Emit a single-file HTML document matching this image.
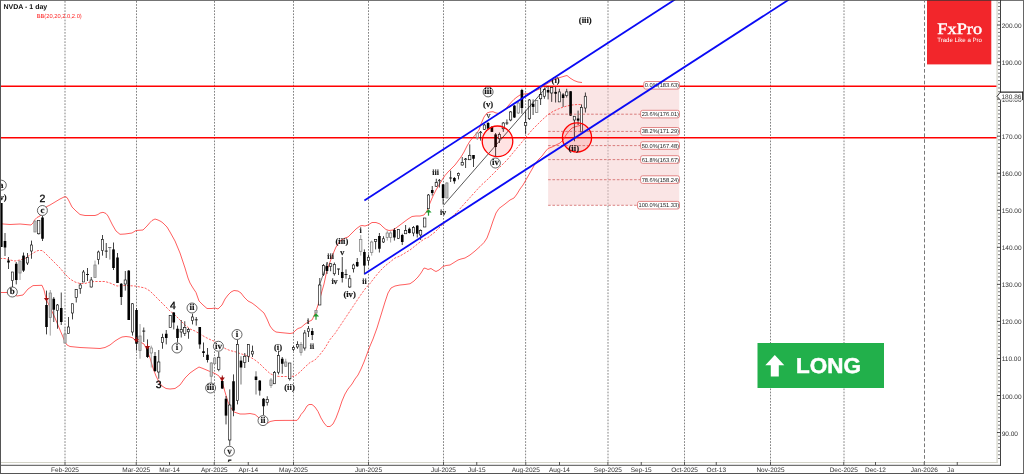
<!DOCTYPE html>
<html><head><meta charset="utf-8"><title>NVDA - 1 day</title>
<style>html,body{margin:0;padding:0;background:#fff;overflow:hidden}body{width:1024px;height:474px;position:relative;font-family:"Liberation Sans",sans-serif}</style></head>
<body>
<svg width="1024" height="474" viewBox="0 0 1024 474" style="position:absolute;left:0;top:0;will-change:transform;text-rendering:geometricPrecision">
<rect x="0" y="0" width="1024" height="474" fill="#fff"/>
<defs><clipPath id="cp"><rect x="0" y="0" width="997" height="462"/></clipPath></defs>
<g clip-path="url(#cp)">
<line x1="65.0" y1="1" x2="65.0" y2="462" stroke="#838383" stroke-width="1" stroke-dasharray="1.7 1.4"/>
<line x1="136.5" y1="1" x2="136.5" y2="462" stroke="#838383" stroke-width="1" stroke-dasharray="1.7 1.4"/>
<line x1="214.5" y1="1" x2="214.5" y2="462" stroke="#838383" stroke-width="1" stroke-dasharray="1.7 1.4"/>
<line x1="293.5" y1="1" x2="293.5" y2="462" stroke="#838383" stroke-width="1" stroke-dasharray="1.7 1.4"/>
<line x1="368.5" y1="1" x2="368.5" y2="462" stroke="#838383" stroke-width="1" stroke-dasharray="1.7 1.4"/>
<line x1="443.5" y1="1" x2="443.5" y2="462" stroke="#838383" stroke-width="1" stroke-dasharray="1.7 1.4"/>
<line x1="525.6" y1="1" x2="525.6" y2="462" stroke="#838383" stroke-width="1" stroke-dasharray="1.7 1.4"/>
<line x1="608.0" y1="1" x2="608.0" y2="462" stroke="#838383" stroke-width="1" stroke-dasharray="1.7 1.4"/>
<line x1="684.5" y1="1" x2="684.5" y2="462" stroke="#838383" stroke-width="1" stroke-dasharray="1.7 1.4"/>
<line x1="770.5" y1="1" x2="770.5" y2="462" stroke="#838383" stroke-width="1" stroke-dasharray="1.7 1.4"/>
<line x1="844.0" y1="1" x2="844.0" y2="462" stroke="#838383" stroke-width="1" stroke-dasharray="1.7 1.4"/>
<line x1="924.5" y1="1" x2="924.5" y2="462" stroke="#787878" stroke-width="1" stroke-dasharray="3.7 2.15" stroke-dashoffset="2.2"/>
<rect x="548.1" y="86.3" width="131.1" height="118.8" fill="#f6cccc" fill-opacity="0.5"/>
<line x1="0" y1="86.3" x2="997" y2="86.3" stroke="#ff0000" stroke-width="1.55"/>
<line x1="0" y1="137.8" x2="997" y2="137.8" stroke="#ff0000" stroke-width="1.55"/>
<polyline points="0.00,223.75 10.00,224.50 20.00,224.00 31.00,225.00 33.00,223.00 35.00,219.50 37.00,217.50 40.00,216.00 43.00,211.00 46.00,207.00 50.00,205.00 55.00,202.00 60.00,199.00 63.00,197.50 65.00,196.50 67.00,197.50 69.00,201.00 72.00,207.00 76.00,211.00 80.00,214.50 85.00,215.50 95.00,215.50 98.00,214.50 100.00,213.00 103.00,212.30 106.00,213.50 108.00,216.00 110.00,220.00 112.50,225.00 116.00,231.00 120.00,234.30 125.00,234.00 132.00,233.00 136.00,230.50 143.00,230.00 147.00,226.00 150.00,222.50 152.00,220.50 155.00,219.00 158.00,220.00 161.00,221.50 163.00,223.00 167.00,227.00 170.00,232.00 175.00,241.00 180.00,253.00 185.00,268.00 188.00,278.00 190.00,283.00 193.00,288.00 196.00,292.50 199.00,301.00 203.00,305.00 207.00,308.50 212.00,308.50 215.00,308.00 218.00,309.00 222.00,305.00 225.00,299.00 228.00,295.00 231.00,292.00 234.00,290.50 238.00,291.00 241.00,293.00 244.00,297.00 248.00,301.00 252.00,303.00 256.00,306.00 260.00,309.50 264.00,313.00 267.00,319.00 270.00,326.00 273.00,330.00 276.00,332.00 280.00,332.50 285.00,333.00 290.00,333.50 293.00,333.00 296.00,330.00 298.00,328.50 301.00,327.50 305.00,324.00 309.00,321.50 312.00,320.00 314.00,316.00 316.00,311.00 318.00,305.00 320.00,298.00 322.00,291.00 324.00,284.00 327.00,270.00 330.00,262.00 333.00,254.00 336.00,247.00 340.00,241.00 345.00,238.00 348.00,237.00 352.00,233.00 356.00,229.00 360.00,226.00 362.00,225.50 365.00,226.00 368.00,225.00 372.00,222.50 376.00,222.50 380.00,224.00 383.00,227.00 386.00,229.50 389.00,230.50 393.00,230.00 396.00,228.00 400.00,225.00 404.00,222.00 408.00,219.00 412.00,216.50 416.00,216.00 420.00,216.00 424.00,215.00 427.00,211.00 430.00,203.00 433.00,196.00 436.00,190.00 439.00,185.00 442.00,180.00 445.00,175.50 448.00,172.00 452.00,168.00 455.00,165.00 458.00,161.00 461.00,157.00 464.00,152.00 467.00,146.00 470.00,141.00 473.00,137.50 476.00,134.00 479.00,130.00 481.00,124.00 484.00,117.00 487.00,113.00 490.00,112.00 493.00,111.70 496.00,113.00 499.00,113.50 502.00,112.00 505.00,109.50 508.00,106.00 512.00,101.50 514.00,99.40 517.00,97.00 520.00,95.00 524.00,94.00 528.00,93.60 532.00,92.00 537.00,90.00 540.00,88.75 545.00,85.00 550.00,82.00 555.00,79.00 560.00,77.50 565.00,76.00 567.00,75.50 570.00,78.00 574.00,80.50 578.00,82.00 582.00,82.50" fill="none" stroke="#ff2a2a" stroke-width="0.75" stroke-linejoin="round"/>
<polyline points="0.00,292.50 7.00,292.50 12.00,294.00 17.00,296.00 23.00,295.00 28.00,289.00 33.00,285.60 42.00,285.30 44.00,290.00 46.50,300.00 50.00,307.00 55.00,318.00 60.00,330.00 63.00,337.00 65.00,342.00 67.00,345.00 70.00,346.50 80.00,347.50 90.00,348.00 100.00,348.50 105.00,347.50 110.00,345.00 115.00,341.00 119.00,338.50 122.00,337.00 126.00,336.50 130.00,337.00 133.00,338.00 136.00,341.00 140.00,342.00 144.00,344.00 147.00,350.00 150.00,358.00 153.00,368.00 156.00,376.00 159.00,382.00 162.00,386.00 166.00,388.50 170.00,389.00 175.00,388.50 180.00,385.00 185.00,378.00 190.00,373.00 195.00,369.50 199.00,367.00 203.00,368.50 210.00,371.50 215.00,373.50 219.00,376.00 222.00,381.00 225.00,392.00 228.00,402.00 231.00,408.00 234.00,412.00 240.00,414.00 245.00,414.00 250.00,413.50 255.00,414.50 258.00,417.00 261.00,420.00 264.00,422.00 268.00,423.00 270.00,421.50 275.00,420.50 285.00,420.40 297.00,420.40 299.00,418.00 301.00,414.50 304.00,411.00 307.00,406.00 309.00,404.50 312.00,404.50 315.00,407.00 318.00,411.50 321.00,418.00 324.00,423.00 327.00,426.50 330.00,426.50 333.00,424.00 336.00,418.00 339.00,410.00 342.00,401.00 345.00,394.00 348.00,389.00 352.00,384.00 355.00,379.00 358.00,375.00 361.00,369.00 364.00,362.00 367.00,354.00 370.00,346.00 373.00,339.00 377.00,328.00 381.00,315.00 385.00,302.00 388.00,293.00 391.00,288.00 395.00,286.00 400.00,285.00 405.00,284.50 410.00,283.75 414.00,281.00 418.00,277.00 421.00,273.00 424.00,268.00 426.00,268.50 428.00,269.50 431.00,268.50 434.00,270.50 436.00,271.50 439.00,270.00 443.00,266.50 446.00,265.50 450.00,265.00 454.00,262.50 458.00,260.00 461.00,259.00 465.00,258.00 470.00,255.00 475.00,251.00 480.00,246.50 484.00,242.50 487.00,238.00 490.00,230.00 493.00,221.00 496.00,213.00 499.00,208.50 505.00,204.00 510.00,200.00 514.00,198.00 517.00,194.00 520.00,189.00 523.00,185.00 527.00,178.00 531.00,171.00 535.00,164.00 538.00,160.00 542.00,156.00 545.00,152.00 548.00,148.50 552.00,147.00 556.00,145.00 560.00,143.00 563.00,140.00 566.00,135.00 569.00,131.00 572.00,128.00 576.00,126.50 580.00,125.50 582.00,123.00" fill="none" stroke="#ff2a2a" stroke-width="0.75" stroke-linejoin="round"/>
<polyline points="0.00,258.50 5.00,258.50 10.00,260.00 15.00,261.00 20.00,260.00 25.00,258.50 30.00,255.00 35.00,252.00 38.00,250.50 42.00,250.50 45.00,253.00 50.00,258.00 55.00,263.00 60.00,268.00 65.00,274.00 70.00,279.00 75.00,282.00 80.00,283.50 85.00,283.50 90.00,282.00 95.00,281.50 105.00,281.50 110.00,283.00 117.00,286.00 125.00,285.50 135.00,286.00 145.00,288.00 150.00,291.00 155.00,296.00 160.00,301.00 165.00,306.00 170.00,311.00 175.00,315.00 180.00,320.00 185.00,325.00 190.00,329.00 195.00,331.00 200.00,334.00 205.00,337.00 210.00,339.50 215.00,341.50 220.00,345.00 225.00,348.50 230.00,350.50 236.00,352.00 240.00,353.50 245.00,355.00 250.00,357.00 255.00,360.00 260.00,364.00 265.00,369.00 270.00,373.50 275.00,376.00 280.00,376.50 290.00,376.50 295.00,376.00 300.00,372.00 305.00,367.00 310.00,362.50 315.00,360.00 320.00,354.50 325.00,348.00 330.00,339.50 335.00,333.50 340.00,326.00 345.00,318.50 350.00,311.00 355.00,303.50 360.00,296.00 365.00,289.00 370.00,283.50 375.00,277.00 380.00,271.00 385.00,266.00 390.00,262.00 395.00,258.00 400.00,256.00 405.00,253.00 410.00,250.00 415.00,246.00 420.00,242.00 425.00,238.50 428.00,237.50 435.00,232.00 440.00,227.00 445.00,222.50 450.00,218.80 455.00,214.00 460.00,208.75 465.00,203.00 470.00,197.50 475.00,192.00 480.00,186.50 482.00,184.50 487.00,180.00 492.00,175.00 497.00,170.00 502.00,165.00 507.00,160.00 512.00,154.00 517.00,148.00 522.00,142.00 527.00,136.00 532.00,130.00 537.00,125.00 542.00,120.00 547.00,115.50 552.00,112.00 557.00,109.50 562.00,107.50 567.00,106.00 572.00,105.00 577.00,104.50 581.00,104.50" fill="none" stroke="#ff2a2a" stroke-width="0.75" stroke-dasharray="2.2 1.4" stroke-linejoin="round"/>
<rect x="0" y="203" width="2.6" height="44" fill="#000"/>
<line x1="5" y1="233" x2="5" y2="256" stroke="#111" stroke-width="0.8"/>
<rect x="3.7" y="241" width="2.6" height="6.5" fill="#000"/>
<line x1="8.5" y1="257" x2="8.5" y2="269" stroke="#111" stroke-width="0.8"/>
<rect x="7.2" y="260.5" width="2.6" height="2.0" fill="#000"/>
<line x1="12.5" y1="272" x2="12.5" y2="287" stroke="#111" stroke-width="0.8"/>
<rect x="11.35" y="272" width="2.3" height="8.600000000000023" fill="#fff" stroke="#111" stroke-width="0.65"/>
<line x1="16.25" y1="262" x2="16.25" y2="284.4" stroke="#111" stroke-width="0.8"/>
<rect x="14.95" y="263.75" width="2.6" height="16.25" fill="#000"/>
<line x1="20" y1="261" x2="20" y2="280" stroke="#8a8a8a" stroke-width="0.8"/>
<rect x="18.9" y="261" width="2.2" height="12" fill="#c8c8c8" stroke="#808080" stroke-width="0.75"/>
<line x1="23.5" y1="252.5" x2="23.5" y2="272" stroke="#111" stroke-width="0.8"/>
<rect x="22.2" y="255.6" width="2.6" height="15.000000000000028" fill="#000"/>
<line x1="27.5" y1="253" x2="27.5" y2="265" stroke="#111" stroke-width="0.8"/>
<rect x="26.35" y="257.5" width="2.3" height="5.5" fill="#fff" stroke="#111" stroke-width="0.65"/>
<line x1="31.5" y1="240.6" x2="31.5" y2="258.75" stroke="#111" stroke-width="0.8"/>
<rect x="30.35" y="245" width="2.3" height="6" fill="#fff" stroke="#111" stroke-width="0.65"/>
<line x1="35" y1="221" x2="35" y2="232" stroke="#8a8a8a" stroke-width="0.8"/>
<rect x="33.9" y="221" width="2.2" height="11" fill="#c8c8c8" stroke="#808080" stroke-width="0.75"/>
<line x1="38.75" y1="220.6" x2="38.75" y2="234.5" stroke="#111" stroke-width="0.8"/>
<rect x="37.6" y="220.6" width="2.3" height="13.150000000000006" fill="#fff" stroke="#111" stroke-width="0.65"/>
<line x1="42.5" y1="216" x2="42.5" y2="241" stroke="#111" stroke-width="0.8"/>
<rect x="41.2" y="217.5" width="2.6" height="21.25" fill="#000"/>
<line x1="46.5" y1="290.6" x2="46.5" y2="334.4" stroke="#111" stroke-width="0.8"/>
<rect x="45.2" y="305" width="2.6" height="22" fill="#000"/>
<line x1="50.25" y1="290" x2="50.25" y2="335.6" stroke="#8a8a8a" stroke-width="0.8"/>
<rect x="49.15" y="293" width="2.2" height="24.5" fill="#c8c8c8" stroke="#808080" stroke-width="0.75"/>
<line x1="53.75" y1="297" x2="53.75" y2="322" stroke="#111" stroke-width="0.8"/>
<rect x="52.45" y="298.75" width="2.6" height="11.0" fill="#000"/>
<line x1="57.5" y1="304" x2="57.5" y2="328.75" stroke="#111" stroke-width="0.8"/>
<rect x="56.35" y="305" width="2.3" height="5.600000000000023" fill="#fff" stroke="#111" stroke-width="0.65"/>
<line x1="61.25" y1="292.5" x2="61.25" y2="325" stroke="#111" stroke-width="0.8"/>
<rect x="59.95" y="308" width="2.6" height="14" fill="#000"/>
<line x1="65" y1="327" x2="65" y2="343" stroke="#8a8a8a" stroke-width="0.8"/>
<rect x="63.9" y="334" width="2.2" height="9" fill="#c8c8c8" stroke="#808080" stroke-width="0.75"/>
<line x1="68.5" y1="317" x2="68.5" y2="333.5" stroke="#111" stroke-width="0.8"/>
<rect x="67.35" y="327" width="2.3" height="6.5" fill="#fff" stroke="#111" stroke-width="0.65"/>
<line x1="72.5" y1="303.75" x2="72.5" y2="319.4" stroke="#111" stroke-width="0.8"/>
<rect x="71.35" y="303.75" width="2.3" height="9.25" fill="#fff" stroke="#111" stroke-width="0.65"/>
<line x1="76.25" y1="289" x2="76.25" y2="302.5" stroke="#111" stroke-width="0.8"/>
<rect x="75.1" y="289.4" width="2.3" height="8.100000000000023" fill="#fff" stroke="#111" stroke-width="0.65"/>
<line x1="80.3" y1="283" x2="80.3" y2="293.75" stroke="#111" stroke-width="0.8"/>
<rect x="79.14999999999999" y="285" width="2.3" height="3.5" fill="#fff" stroke="#111" stroke-width="0.65"/>
<line x1="83.5" y1="270" x2="83.5" y2="282" stroke="#111" stroke-width="0.8"/>
<rect x="82.35" y="272" width="2.3" height="10" fill="#fff" stroke="#111" stroke-width="0.65"/>
<line x1="87.5" y1="268" x2="87.5" y2="281" stroke="#111" stroke-width="0.8"/>
<line x1="86.0" y1="274.5" x2="89.0" y2="274.5" stroke="#111" stroke-width="0.9"/>
<line x1="91.25" y1="277" x2="91.25" y2="287.5" stroke="#111" stroke-width="0.8"/>
<rect x="90.1" y="280" width="2.3" height="7" fill="#fff" stroke="#111" stroke-width="0.65"/>
<line x1="95" y1="260.6" x2="95" y2="277.5" stroke="#8a8a8a" stroke-width="0.8"/>
<rect x="93.9" y="265" width="2.2" height="12.5" fill="#c8c8c8" stroke="#808080" stroke-width="0.75"/>
<line x1="98.5" y1="250.6" x2="98.5" y2="264.4" stroke="#111" stroke-width="0.8"/>
<rect x="97.35" y="252" width="2.3" height="7.399999999999977" fill="#fff" stroke="#111" stroke-width="0.65"/>
<line x1="102.5" y1="235" x2="102.5" y2="255.6" stroke="#111" stroke-width="0.8"/>
<rect x="101.35" y="239.4" width="2.3" height="11.199999999999989" fill="#fff" stroke="#111" stroke-width="0.65"/>
<line x1="106.25" y1="243" x2="106.25" y2="258" stroke="#111" stroke-width="0.8"/>
<line x1="104.75" y1="251.1" x2="107.75" y2="251.1" stroke="#111" stroke-width="0.9"/>
<line x1="109.75" y1="247.5" x2="109.75" y2="259.4" stroke="#8a8a8a" stroke-width="0.8"/>
<rect x="109.15" y="247.5" width="1.2" height="11.899999999999977" fill="#b0b0b0"/>
<line x1="108.15" y1="247.5" x2="111.35" y2="247.5" stroke="#666" stroke-width="0.9"/>
<line x1="113.5" y1="242.5" x2="113.5" y2="270" stroke="#111" stroke-width="0.8"/>
<rect x="112.2" y="249.4" width="2.6" height="18.599999999999994" fill="#000"/>
<line x1="117.5" y1="253" x2="117.5" y2="283" stroke="#111" stroke-width="0.8"/>
<rect x="116.2" y="257.5" width="2.6" height="25.5" fill="#000"/>
<line x1="121.25" y1="283" x2="121.25" y2="305" stroke="#111" stroke-width="0.8"/>
<rect x="119.95" y="283.75" width="2.6" height="13.25" fill="#000"/>
<line x1="125.3" y1="271" x2="125.3" y2="290.6" stroke="#111" stroke-width="0.8"/>
<rect x="124.14999999999999" y="280" width="2.3" height="4" fill="#fff" stroke="#111" stroke-width="0.65"/>
<line x1="128.75" y1="270" x2="128.75" y2="320" stroke="#111" stroke-width="0.8"/>
<rect x="127.45" y="270.6" width="2.6" height="49.39999999999998" fill="#000"/>
<line x1="132.5" y1="303" x2="132.5" y2="335.6" stroke="#111" stroke-width="0.8"/>
<rect x="131.35" y="303.75" width="2.3" height="28.25" fill="#fff" stroke="#111" stroke-width="0.65"/>
<line x1="136.5" y1="308" x2="136.5" y2="350.6" stroke="#111" stroke-width="0.8"/>
<rect x="135.2" y="310" width="2.6" height="33.75" fill="#000"/>
<line x1="140" y1="324" x2="140" y2="358.75" stroke="#8a8a8a" stroke-width="0.8"/>
<rect x="138.9" y="336" width="2.2" height="14.600000000000023" fill="#c8c8c8" stroke="#808080" stroke-width="0.75"/>
<line x1="143.75" y1="327.5" x2="143.75" y2="342" stroke="#111" stroke-width="0.8"/>
<line x1="142.25" y1="331.1" x2="145.25" y2="331.1" stroke="#111" stroke-width="0.9"/>
<line x1="147.5" y1="339.4" x2="147.5" y2="358" stroke="#111" stroke-width="0.8"/>
<rect x="146.2" y="346" width="2.6" height="11" fill="#000"/>
<line x1="151.25" y1="345.6" x2="151.25" y2="367.5" stroke="#8a8a8a" stroke-width="0.8"/>
<rect x="150.1" y="348" width="2.3" height="5" fill="#f4f4f4" stroke="#777" stroke-width="0.7"/>
<line x1="155" y1="352" x2="155" y2="372" stroke="#111" stroke-width="0.8"/>
<rect x="153.7" y="356" width="2.6" height="15" fill="#000"/>
<line x1="158.75" y1="350" x2="158.75" y2="378.75" stroke="#111" stroke-width="0.8"/>
<rect x="157.6" y="362" width="2.3" height="10" fill="#fff" stroke="#111" stroke-width="0.65"/>
<line x1="162.5" y1="333.75" x2="162.5" y2="348.75" stroke="#111" stroke-width="0.8"/>
<rect x="161.35" y="337.5" width="2.3" height="5.0" fill="#fff" stroke="#111" stroke-width="0.65"/>
<line x1="166.25" y1="330" x2="166.25" y2="344.4" stroke="#111" stroke-width="0.8"/>
<rect x="164.95" y="333.75" width="2.6" height="4.25" fill="#000"/>
<line x1="170.3" y1="315.6" x2="170.3" y2="327.5" stroke="#111" stroke-width="0.8"/>
<rect x="169.15" y="315.6" width="2.3" height="11.899999999999977" fill="#fff" stroke="#111" stroke-width="0.65"/>
<line x1="173.75" y1="312" x2="173.75" y2="329.4" stroke="#111" stroke-width="0.8"/>
<rect x="172.45" y="312.5" width="2.6" height="10.0" fill="#000"/>
<line x1="177.5" y1="325.6" x2="177.5" y2="342.5" stroke="#111" stroke-width="0.8"/>
<rect x="176.2" y="328.75" width="2.6" height="9.25" fill="#000"/>
<line x1="181.25" y1="320" x2="181.25" y2="337.5" stroke="#111" stroke-width="0.8"/>
<rect x="180.1" y="329.4" width="2.3" height="2.6000000000000227" fill="#fff" stroke="#111" stroke-width="0.65"/>
<line x1="184.75" y1="321.25" x2="184.75" y2="336" stroke="#111" stroke-width="0.8"/>
<rect x="183.6" y="327.5" width="2.3" height="6.0" fill="#fff" stroke="#111" stroke-width="0.65"/>
<line x1="188.5" y1="328" x2="188.5" y2="338.75" stroke="#111" stroke-width="0.8"/>
<rect x="187.35" y="329.6" width="2.3" height="2.1999999999999886" fill="#fff" stroke="#111" stroke-width="0.65"/>
<line x1="192.5" y1="313.75" x2="192.5" y2="324.4" stroke="#111" stroke-width="0.8"/>
<rect x="191.35" y="317" width="2.3" height="3.6000000000000227" fill="#fff" stroke="#111" stroke-width="0.65"/>
<line x1="196.25" y1="317" x2="196.25" y2="325.6" stroke="#111" stroke-width="0.8"/>
<line x1="194.75" y1="319.8" x2="197.75" y2="319.8" stroke="#111" stroke-width="0.9"/>
<line x1="199.75" y1="327" x2="199.75" y2="348.75" stroke="#111" stroke-width="0.8"/>
<rect x="198.45" y="327" width="2.6" height="17.399999999999977" fill="#000"/>
<line x1="203.5" y1="342.5" x2="203.5" y2="357" stroke="#111" stroke-width="0.8"/>
<rect x="202.2" y="351.25" width="2.6" height="1.75" fill="#000"/>
<line x1="207.5" y1="348" x2="207.5" y2="362.5" stroke="#111" stroke-width="0.8"/>
<rect x="206.2" y="354.75" width="2.6" height="5.25" fill="#000"/>
<line x1="211.25" y1="362" x2="211.25" y2="383.75" stroke="#8a8a8a" stroke-width="0.8"/>
<rect x="210.15" y="363" width="2.2" height="13.25" fill="#c8c8c8" stroke="#808080" stroke-width="0.75"/>
<line x1="214.75" y1="357" x2="214.75" y2="364" stroke="#8a8a8a" stroke-width="0.8"/>
<rect x="213.65" y="358" width="2.2" height="5.75" fill="#c8c8c8" stroke="#808080" stroke-width="0.75"/>
<line x1="218.75" y1="352" x2="218.75" y2="371.25" stroke="#111" stroke-width="0.8"/>
<rect x="217.6" y="357.25" width="2.3" height="12.149999999999977" fill="#fff" stroke="#111" stroke-width="0.65"/>
<line x1="222.25" y1="377" x2="222.25" y2="389" stroke="#111" stroke-width="0.8"/>
<rect x="220.95" y="381" width="2.6" height="7.5" fill="#000"/>
<line x1="226" y1="396" x2="226" y2="424.4" stroke="#111" stroke-width="0.8"/>
<rect x="224.7" y="398.75" width="2.6" height="16.850000000000023" fill="#000"/>
<line x1="229.75" y1="389.4" x2="229.75" y2="445.6" stroke="#111" stroke-width="0.8"/>
<rect x="228.6" y="405" width="2.3" height="35" fill="#fff" stroke="#111" stroke-width="0.65"/>
<line x1="233.5" y1="374.4" x2="233.5" y2="416.25" stroke="#111" stroke-width="0.8"/>
<rect x="232.2" y="381.25" width="2.6" height="29.350000000000023" fill="#000"/>
<line x1="237.5" y1="340" x2="237.5" y2="404.4" stroke="#111" stroke-width="0.8"/>
<rect x="236.35" y="344.4" width="2.3" height="56.200000000000045" fill="#fff" stroke="#111" stroke-width="0.65"/>
<line x1="241" y1="356.25" x2="241" y2="384.4" stroke="#9a9a9a" stroke-width="1.4"/>
<rect x="239.7" y="360.6" width="2.6" height="6.899999999999977" fill="#000"/>
<line x1="244.75" y1="353" x2="244.75" y2="368" stroke="#111" stroke-width="0.8"/>
<rect x="243.6" y="356.25" width="2.3" height="6.25" fill="#fff" stroke="#111" stroke-width="0.65"/>
<line x1="248.5" y1="344" x2="248.5" y2="362" stroke="#111" stroke-width="0.8"/>
<rect x="247.35" y="344.4" width="2.3" height="11.850000000000023" fill="#fff" stroke="#111" stroke-width="0.65"/>
<line x1="252.5" y1="345.6" x2="252.5" y2="357" stroke="#111" stroke-width="0.8"/>
<rect x="251.35" y="351.25" width="2.3" height="2.75" fill="#fff" stroke="#111" stroke-width="0.65"/>
<line x1="256" y1="371.25" x2="256" y2="394.4" stroke="#9a9a9a" stroke-width="1.4"/>
<rect x="254.7" y="376.5" width="2.6" height="3.5" fill="#000"/>
<line x1="259.75" y1="380" x2="259.75" y2="395.6" stroke="#111" stroke-width="0.8"/>
<rect x="258.45" y="380.6" width="2.6" height="10.0" fill="#000"/>
<line x1="263.5" y1="398" x2="263.5" y2="415" stroke="#111" stroke-width="0.8"/>
<rect x="262.2" y="398.75" width="2.6" height="7.5" fill="#000"/>
<line x1="267.25" y1="396.25" x2="267.25" y2="405.6" stroke="#111" stroke-width="0.8"/>
<rect x="266.1" y="399.4" width="2.3" height="3.1000000000000227" fill="#fff" stroke="#111" stroke-width="0.65"/>
<line x1="271" y1="378" x2="271" y2="388" stroke="#8a8a8a" stroke-width="0.8"/>
<rect x="269.9" y="380" width="2.2" height="5.600000000000023" fill="#c8c8c8" stroke="#808080" stroke-width="0.75"/>
<line x1="274.5" y1="371" x2="274.5" y2="384" stroke="#111" stroke-width="0.8"/>
<rect x="273.35" y="372.5" width="2.3" height="11.25" fill="#fff" stroke="#111" stroke-width="0.65"/>
<line x1="278.5" y1="350.6" x2="278.5" y2="374.4" stroke="#111" stroke-width="0.8"/>
<rect x="277.35" y="355.6" width="2.3" height="16.649999999999977" fill="#fff" stroke="#111" stroke-width="0.65"/>
<line x1="282.25" y1="357" x2="282.25" y2="373.75" stroke="#111" stroke-width="0.8"/>
<rect x="280.95" y="358.75" width="2.6" height="5.0" fill="#000"/>
<line x1="285.75" y1="358.75" x2="285.75" y2="367" stroke="#8a8a8a" stroke-width="0.8"/>
<rect x="284.65" y="362" width="2.2" height="4.25" fill="#c8c8c8" stroke="#808080" stroke-width="0.75"/>
<line x1="289.75" y1="363" x2="289.75" y2="380.6" stroke="#111" stroke-width="0.8"/>
<rect x="288.6" y="363" width="2.3" height="15.75" fill="#fff" stroke="#111" stroke-width="0.65"/>
<line x1="293.5" y1="346" x2="293.5" y2="351" stroke="#111" stroke-width="0.8"/>
<rect x="292.35" y="347.5" width="2.3" height="2.0" fill="#fff" stroke="#111" stroke-width="0.65"/>
<line x1="297.5" y1="341.25" x2="297.5" y2="348.75" stroke="#111" stroke-width="0.8"/>
<rect x="296.35" y="344.4" width="2.3" height="2.6000000000000227" fill="#fff" stroke="#111" stroke-width="0.65"/>
<line x1="301" y1="342" x2="301" y2="355.6" stroke="#8a8a8a" stroke-width="0.8"/>
<rect x="299.9" y="344.4" width="2.2" height="8.100000000000023" fill="#c8c8c8" stroke="#808080" stroke-width="0.75"/>
<line x1="304.75" y1="330" x2="304.75" y2="350.6" stroke="#111" stroke-width="0.8"/>
<rect x="303.6" y="333" width="2.3" height="15" fill="#fff" stroke="#111" stroke-width="0.65"/>
<line x1="308.5" y1="326" x2="308.5" y2="337" stroke="#111" stroke-width="0.8"/>
<rect x="307.35" y="328.75" width="2.3" height="2.75" fill="#fff" stroke="#111" stroke-width="0.65"/>
<line x1="312.25" y1="328" x2="312.25" y2="340" stroke="#111" stroke-width="0.8"/>
<rect x="310.95" y="331" width="2.6" height="4" fill="#000"/>
<line x1="316" y1="310" x2="316" y2="313.5" stroke="#8a8a8a" stroke-width="0.8"/>
<rect x="314.9" y="310.6" width="2.2" height="2.3999999999999773" fill="#c8c8c8" stroke="#808080" stroke-width="0.75"/>
<line x1="319.75" y1="278" x2="319.75" y2="305" stroke="#111" stroke-width="0.8"/>
<rect x="318.6" y="285" width="2.3" height="20" fill="#fff" stroke="#111" stroke-width="0.65"/>
<line x1="323.5" y1="264" x2="323.5" y2="276" stroke="#111" stroke-width="0.8"/>
<rect x="322.35" y="265.6" width="2.3" height="8.799999999999955" fill="#fff" stroke="#111" stroke-width="0.65"/>
<line x1="327.0" y1="262" x2="327.0" y2="274" stroke="#111" stroke-width="0.8"/>
<rect x="325.7" y="266" width="2.6" height="5" fill="#000"/>
<line x1="330.6" y1="263" x2="330.6" y2="271.25" stroke="#111" stroke-width="0.8"/>
<rect x="329.45000000000005" y="263.75" width="2.3" height="2.5" fill="#fff" stroke="#111" stroke-width="0.65"/>
<line x1="334.4" y1="262.5" x2="334.4" y2="275.6" stroke="#111" stroke-width="0.8"/>
<rect x="333.25" y="264.4" width="2.3" height="9.350000000000023" fill="#fff" stroke="#111" stroke-width="0.65"/>
<line x1="338.5" y1="268.75" x2="338.5" y2="275" stroke="#111" stroke-width="0.8"/>
<line x1="337.0" y1="269.0" x2="340.0" y2="269.0" stroke="#111" stroke-width="0.9"/>
<line x1="342.25" y1="257" x2="342.25" y2="282.5" stroke="#111" stroke-width="0.8"/>
<rect x="340.95" y="272" width="2.6" height="6" fill="#000"/>
<line x1="346" y1="269.4" x2="346" y2="278.75" stroke="#111" stroke-width="0.8"/>
<line x1="344.5" y1="274.5" x2="347.5" y2="274.5" stroke="#111" stroke-width="0.9"/>
<line x1="349.75" y1="275" x2="349.75" y2="288" stroke="#111" stroke-width="0.8"/>
<rect x="348.6" y="278.75" width="2.3" height="8.25" fill="#fff" stroke="#111" stroke-width="0.65"/>
<line x1="353.5" y1="263.75" x2="353.5" y2="272.5" stroke="#111" stroke-width="0.8"/>
<rect x="352.35" y="265" width="2.3" height="3.75" fill="#fff" stroke="#111" stroke-width="0.65"/>
<line x1="357.25" y1="258" x2="357.25" y2="267" stroke="#111" stroke-width="0.8"/>
<rect x="355.95" y="262" width="2.6" height="4.25" fill="#000"/>
<line x1="360.75" y1="235" x2="360.75" y2="255.6" stroke="#8a8a8a" stroke-width="0.8"/>
<rect x="359.6" y="239.4" width="2.3" height="11.849999999999994" fill="#f4f4f4" stroke="#777" stroke-width="0.7"/>
<line x1="364.4" y1="249.4" x2="364.4" y2="274.4" stroke="#111" stroke-width="0.8"/>
<rect x="363.09999999999997" y="252" width="2.6" height="13.600000000000023" fill="#000"/>
<line x1="368.5" y1="254.4" x2="368.5" y2="265" stroke="#111" stroke-width="0.8"/>
<rect x="367.35" y="257.25" width="2.3" height="3.3500000000000227" fill="#fff" stroke="#111" stroke-width="0.65"/>
<line x1="371.7" y1="240.6" x2="371.7" y2="255.6" stroke="#8a8a8a" stroke-width="0.8"/>
<rect x="370.55" y="242" width="2.3" height="10.5" fill="#f4f4f4" stroke="#777" stroke-width="0.7"/>
<line x1="375.6" y1="239.4" x2="375.6" y2="249.4" stroke="#111" stroke-width="0.8"/>
<rect x="374.45000000000005" y="239.4" width="2.3" height="2.0999999999999943" fill="#fff" stroke="#111" stroke-width="0.65"/>
<line x1="379.4" y1="233" x2="379.4" y2="252.5" stroke="#111" stroke-width="0.8"/>
<rect x="378.09999999999997" y="236" width="2.6" height="12.75" fill="#000"/>
<line x1="383.5" y1="236.25" x2="383.5" y2="243" stroke="#111" stroke-width="0.8"/>
<rect x="382.35" y="238.75" width="2.3" height="3.25" fill="#fff" stroke="#111" stroke-width="0.65"/>
<line x1="387.25" y1="230.6" x2="387.25" y2="240.6" stroke="#8a8a8a" stroke-width="0.8"/>
<rect x="386.1" y="233" width="2.3" height="4.5" fill="#f4f4f4" stroke="#777" stroke-width="0.7"/>
<line x1="390.6" y1="231.25" x2="390.6" y2="242.5" stroke="#8a8a8a" stroke-width="0.8"/>
<rect x="389.45000000000005" y="233" width="2.3" height="4.5" fill="#f4f4f4" stroke="#777" stroke-width="0.7"/>
<line x1="394.4" y1="228" x2="394.4" y2="240.6" stroke="#111" stroke-width="0.8"/>
<rect x="393.09999999999997" y="230" width="2.6" height="7.5" fill="#000"/>
<line x1="398.5" y1="229" x2="398.5" y2="239" stroke="#111" stroke-width="0.8"/>
<rect x="397.35" y="229.4" width="2.3" height="9.099999999999994" fill="#fff" stroke="#111" stroke-width="0.65"/>
<line x1="402.25" y1="233.75" x2="402.25" y2="245" stroke="#111" stroke-width="0.8"/>
<rect x="400.95" y="235" width="2.6" height="7" fill="#000"/>
<line x1="405.6" y1="225" x2="405.6" y2="234" stroke="#111" stroke-width="0.8"/>
<rect x="404.45000000000005" y="230.6" width="2.3" height="3.1500000000000057" fill="#fff" stroke="#111" stroke-width="0.65"/>
<line x1="409.4" y1="227.5" x2="409.4" y2="233.5" stroke="#111" stroke-width="0.8"/>
<rect x="408.09999999999997" y="228.75" width="2.6" height="4.25" fill="#000"/>
<line x1="413.5" y1="226" x2="413.5" y2="236.25" stroke="#111" stroke-width="0.8"/>
<rect x="412.35" y="227.5" width="2.3" height="5.5" fill="#fff" stroke="#111" stroke-width="0.65"/>
<line x1="417.25" y1="225" x2="417.25" y2="237.5" stroke="#111" stroke-width="0.8"/>
<rect x="415.95" y="225.6" width="2.6" height="8.150000000000006" fill="#000"/>
<line x1="420.6" y1="229.4" x2="420.6" y2="240" stroke="#111" stroke-width="0.8"/>
<rect x="419.45000000000005" y="230.6" width="2.3" height="4.400000000000006" fill="#fff" stroke="#111" stroke-width="0.65"/>
<line x1="424.75" y1="218" x2="424.75" y2="227" stroke="#111" stroke-width="0.8"/>
<rect x="423.6" y="218" width="2.3" height="9" fill="#fff" stroke="#111" stroke-width="0.65"/>
<line x1="428.5" y1="194" x2="428.5" y2="208.75" stroke="#111" stroke-width="0.8"/>
<rect x="427.35" y="195" width="2.3" height="13.75" fill="#fff" stroke="#111" stroke-width="0.65"/>
<line x1="432.25" y1="186" x2="432.25" y2="195.6" stroke="#111" stroke-width="0.8"/>
<rect x="430.95" y="190" width="2.6" height="3" fill="#000"/>
<line x1="436.3" y1="178.75" x2="436.3" y2="187" stroke="#111" stroke-width="0.8"/>
<rect x="435.15000000000003" y="182.5" width="2.3" height="3.75" fill="#fff" stroke="#111" stroke-width="0.65"/>
<line x1="439.4" y1="179.4" x2="439.4" y2="187.5" stroke="#111" stroke-width="0.8"/>
<path d="M437.9,181.4 L439.4,179.4 L440.9,181.4" fill="none" stroke="#111" stroke-width="0.8"/>
<line x1="443.1" y1="184" x2="443.1" y2="204.4" stroke="#111" stroke-width="0.8"/>
<rect x="441.8" y="184.4" width="2.6" height="13.599999999999994" fill="#000"/>
<line x1="446.9" y1="182" x2="446.9" y2="198" stroke="#8a8a8a" stroke-width="0.8"/>
<rect x="445.79999999999995" y="183" width="2.2" height="15" fill="#c8c8c8" stroke="#808080" stroke-width="0.75"/>
<line x1="450.6" y1="170.6" x2="450.6" y2="182" stroke="#111" stroke-width="0.8"/>
<line x1="449.1" y1="178.0" x2="452.1" y2="178.0" stroke="#111" stroke-width="0.9"/>
<line x1="454.4" y1="177" x2="454.4" y2="183.75" stroke="#111" stroke-width="0.8"/>
<rect x="453.09999999999997" y="178" width="2.6" height="3.25" fill="#000"/>
<line x1="458.5" y1="172.5" x2="458.5" y2="179.4" stroke="#111" stroke-width="0.8"/>
<rect x="457.35" y="173.4" width="2.3" height="2.1999999999999886" fill="#fff" stroke="#111" stroke-width="0.65"/>
<line x1="462.25" y1="157" x2="462.25" y2="165.6" stroke="#111" stroke-width="0.8"/>
<rect x="461.1" y="162.5" width="2.3" height="2.5" fill="#fff" stroke="#111" stroke-width="0.65"/>
<line x1="465.6" y1="158" x2="465.6" y2="168" stroke="#111" stroke-width="0.8"/>
<path d="M464.1,160 L465.6,158 L467.1,160" fill="none" stroke="#111" stroke-width="0.8"/>
<line x1="469.75" y1="144.4" x2="469.75" y2="160" stroke="#111" stroke-width="0.8"/>
<rect x="468.6" y="155.6" width="2.3" height="4.150000000000006" fill="#fff" stroke="#111" stroke-width="0.65"/>
<line x1="473.5" y1="155" x2="473.5" y2="167" stroke="#111" stroke-width="0.8"/>
<rect x="472.2" y="155" width="2.6" height="3.75" fill="#000"/>
<line x1="477.25" y1="132" x2="477.25" y2="140" stroke="#8a8a8a" stroke-width="0.8"/>
<rect x="476.1" y="133" width="2.3" height="4.5" fill="#f4f4f4" stroke="#777" stroke-width="0.7"/>
<line x1="480.6" y1="131.25" x2="480.6" y2="140.6" stroke="#111" stroke-width="0.8"/>
<path d="M479.1,133.25 L480.6,131.25 L482.1,133.25" fill="none" stroke="#111" stroke-width="0.8"/>
<line x1="484.4" y1="124" x2="484.4" y2="130" stroke="#111" stroke-width="0.8"/>
<rect x="483.25" y="125" width="2.3" height="4.400000000000006" fill="#fff" stroke="#111" stroke-width="0.65"/>
<line x1="488.1" y1="122" x2="488.1" y2="129" stroke="#111" stroke-width="0.8"/>
<rect x="486.8" y="123" width="2.6" height="5.75" fill="#000"/>
<line x1="491.9" y1="126" x2="491.9" y2="132" stroke="#111" stroke-width="0.8"/>
<rect x="490.59999999999997" y="126.9" width="2.6" height="5.0" fill="#000"/>
<line x1="495.6" y1="133" x2="495.6" y2="157" stroke="#111" stroke-width="0.8"/>
<rect x="494.3" y="134.4" width="2.6" height="12.599999999999994" fill="#000"/>
<line x1="499.4" y1="132.5" x2="499.4" y2="143" stroke="#111" stroke-width="0.8"/>
<rect x="498.25" y="134.4" width="2.3" height="4.349999999999994" fill="#fff" stroke="#111" stroke-width="0.65"/>
<line x1="503.3" y1="122" x2="503.3" y2="131.9" stroke="#111" stroke-width="0.8"/>
<rect x="502.15000000000003" y="123" width="2.3" height="5.75" fill="#fff" stroke="#111" stroke-width="0.65"/>
<line x1="506.9" y1="119.4" x2="506.9" y2="125" stroke="#111" stroke-width="0.8"/>
<line x1="505.4" y1="123.0" x2="508.4" y2="123.0" stroke="#111" stroke-width="0.9"/>
<line x1="510.6" y1="111" x2="510.6" y2="121.25" stroke="#111" stroke-width="0.8"/>
<rect x="509.45000000000005" y="111.9" width="2.3" height="8.099999999999994" fill="#fff" stroke="#111" stroke-width="0.65"/>
<line x1="514.4" y1="105" x2="514.4" y2="118" stroke="#111" stroke-width="0.8"/>
<rect x="513.1" y="105.6" width="2.6" height="11.900000000000006" fill="#000"/>
<line x1="518.3" y1="102" x2="518.3" y2="114" stroke="#8a8a8a" stroke-width="0.8"/>
<rect x="517.15" y="103" width="2.3" height="10" fill="#f4f4f4" stroke="#777" stroke-width="0.7"/>
<line x1="521.9" y1="88.75" x2="521.9" y2="113.75" stroke="#111" stroke-width="0.8"/>
<rect x="520.6" y="90" width="2.6" height="18" fill="#000"/>
<line x1="525.6" y1="111.25" x2="525.6" y2="134" stroke="#111" stroke-width="0.8"/>
<rect x="524.45" y="122.5" width="2.3" height="3.0999999999999943" fill="#fff" stroke="#111" stroke-width="0.65"/>
<line x1="529.4" y1="99" x2="529.4" y2="120" stroke="#111" stroke-width="0.8"/>
<rect x="528.25" y="100" width="2.3" height="18.75" fill="#fff" stroke="#111" stroke-width="0.65"/>
<line x1="533.1" y1="99.4" x2="533.1" y2="115" stroke="#111" stroke-width="0.8"/>
<rect x="531.8000000000001" y="103.75" width="2.6" height="3.1500000000000057" fill="#000"/>
<line x1="536.7" y1="100" x2="536.7" y2="113" stroke="#8a8a8a" stroke-width="0.8"/>
<rect x="535.5500000000001" y="100.6" width="2.3" height="11.900000000000006" fill="#f4f4f4" stroke="#777" stroke-width="0.7"/>
<line x1="540.6" y1="88" x2="540.6" y2="105" stroke="#111" stroke-width="0.8"/>
<rect x="539.45" y="94.4" width="2.3" height="4.349999999999994" fill="#fff" stroke="#111" stroke-width="0.65"/>
<line x1="544.4" y1="87.5" x2="544.4" y2="98.75" stroke="#111" stroke-width="0.8"/>
<rect x="543.25" y="89.4" width="2.3" height="6.849999999999994" fill="#fff" stroke="#111" stroke-width="0.65"/>
<line x1="548.1" y1="86.25" x2="548.1" y2="99.4" stroke="#111" stroke-width="0.8"/>
<rect x="546.8000000000001" y="90" width="2.6" height="2.5" fill="#000"/>
<line x1="551.7" y1="87" x2="551.7" y2="101.9" stroke="#111" stroke-width="0.8"/>
<rect x="550.5500000000001" y="87.5" width="2.3" height="5.5" fill="#fff" stroke="#111" stroke-width="0.65"/>
<line x1="555.6" y1="87" x2="555.6" y2="102.5" stroke="#111" stroke-width="0.8"/>
<rect x="554.3000000000001" y="91.9" width="2.6" height="1.8499999999999943" fill="#000"/>
<line x1="559.4" y1="88.75" x2="559.4" y2="102" stroke="#111" stroke-width="0.8"/>
<rect x="558.25" y="91.9" width="2.3" height="10.0" fill="#fff" stroke="#111" stroke-width="0.65"/>
<line x1="563.1" y1="93" x2="563.1" y2="106.9" stroke="#111" stroke-width="0.8"/>
<rect x="561.8000000000001" y="94.4" width="2.6" height="3.5999999999999943" fill="#000"/>
<line x1="566.7" y1="88.75" x2="566.7" y2="97.5" stroke="#111" stroke-width="0.8"/>
<rect x="565.5500000000001" y="91.9" width="2.3" height="3.6999999999999886" fill="#fff" stroke="#111" stroke-width="0.65"/>
<line x1="570.6" y1="91" x2="570.6" y2="116" stroke="#111" stroke-width="0.8"/>
<rect x="569.3000000000001" y="91.25" width="2.6" height="24.349999999999994" fill="#000"/>
<line x1="574.4" y1="116" x2="574.4" y2="141.25" stroke="#111" stroke-width="0.8"/>
<rect x="573.25" y="116.25" width="2.3" height="3.75" fill="#fff" stroke="#111" stroke-width="0.65"/>
<line x1="578.1" y1="110.6" x2="578.1" y2="125" stroke="#111" stroke-width="0.8"/>
<rect x="576.8000000000001" y="118.5" width="2.6" height="2.0999999999999943" fill="#000"/>
<line x1="581.5" y1="104.4" x2="581.5" y2="132" stroke="#111" stroke-width="0.8"/>
<rect x="580.35" y="107.5" width="2.3" height="24.400000000000006" fill="#fff" stroke="#111" stroke-width="0.65"/>
<line x1="585.4" y1="92.5" x2="585.4" y2="112.5" stroke="#111" stroke-width="0.8"/>
<rect x="584.25" y="96.25" width="2.3" height="11.75" fill="#fff" stroke="#111" stroke-width="0.65"/>
<path d="M46.5,296 L46.5,301" stroke="#a01010" stroke-width="1"/><path d="M43.9,298.0 L46.5,301.6 L49.1,298.0 Z" fill="#a01010"/>
<path d="M136.25,337 L136.25,342" stroke="#a01010" stroke-width="1"/><path d="M133.65,339.0 L136.25,342.6 L138.85,339.0 Z" fill="#a01010"/>
<path d="M147.5,344 L147.5,349" stroke="#a01010" stroke-width="1"/><path d="M144.9,346.0 L147.5,349.6 L150.1,346.0 Z" fill="#a01010"/>
<path d="M222.3,375.5 L222.3,380.5" stroke="#a01010" stroke-width="1"/><path d="M219.70000000000002,377.5 L222.3,381.1 L224.9,377.5 Z" fill="#a01010"/>
<path d="M316,314.2 L316,319.7" stroke="#1f9a2e" stroke-width="1.2"/><path d="M312.9,316.59999999999997 L316,313.2 L319.1,316.59999999999997 Z" fill="#1f9a2e"/>
<path d="M428.5,210.2 L428.5,215.7" stroke="#1f9a2e" stroke-width="1.2"/><path d="M425.4,212.6 L428.5,209.2 L431.6,212.6 Z" fill="#1f9a2e"/>
<line x1="319.5" y1="285" x2="327.4" y2="262.5" stroke="#111" stroke-width="0.6"/>
<line x1="443.8" y1="205" x2="547" y2="86.5" stroke="#111" stroke-width="0.7"/>
<circle cx="497.5" cy="141.3" r="15.3" fill="#ff0000" fill-opacity="0.11" stroke="#ff0000" stroke-width="1.3"/>
<circle cx="577" cy="137.5" r="14.6" fill="#ff0000" fill-opacity="0.11" stroke="#ff0000" stroke-width="1.3"/>
<rect x="643.75" y="81.5" width="35.75" height="7.6" rx="2" ry="2" fill="#fff" stroke="#dc6c6c" stroke-width="0.8"/>
<text x="661.925" y="87.45" font-family="Liberation Sans, sans-serif" font-size="5.7" fill="#222" text-anchor="middle">0.0%(183.63)</text>
<line x1="548.1" y1="114.2" x2="640.6" y2="114.2" stroke="#cc5050" stroke-width="0.7" stroke-dasharray="2.6 1.7"/>
<rect x="640.6" y="110.3" width="38.89999999999998" height="7.6" rx="2" ry="2" fill="#fff" stroke="#dc6c6c" stroke-width="0.8"/>
<text x="660.3499999999999" y="116.25" font-family="Liberation Sans, sans-serif" font-size="5.7" fill="#222" text-anchor="middle">23.6%(176.01)</text>
<line x1="548.1" y1="131.4" x2="640.6" y2="131.4" stroke="#cc5050" stroke-width="0.7" stroke-dasharray="2.6 1.7"/>
<rect x="640.6" y="127.5" width="38.89999999999998" height="7.6" rx="2" ry="2" fill="#fff" stroke="#dc6c6c" stroke-width="0.8"/>
<text x="660.3499999999999" y="133.45000000000002" font-family="Liberation Sans, sans-serif" font-size="5.7" fill="#222" text-anchor="middle">38.2%(171.29)</text>
<line x1="548.1" y1="145.6" x2="640.6" y2="145.6" stroke="#cc5050" stroke-width="0.7" stroke-dasharray="2.6 1.7"/>
<rect x="640.6" y="141.7" width="38.89999999999998" height="7.6" rx="2" ry="2" fill="#fff" stroke="#dc6c6c" stroke-width="0.8"/>
<text x="660.3499999999999" y="147.65" font-family="Liberation Sans, sans-serif" font-size="5.7" fill="#222" text-anchor="middle">50.0%(167.48)</text>
<line x1="548.1" y1="159.6" x2="640.6" y2="159.6" stroke="#cc5050" stroke-width="0.7" stroke-dasharray="2.6 1.7"/>
<rect x="640.6" y="155.7" width="38.89999999999998" height="7.6" rx="2" ry="2" fill="#fff" stroke="#dc6c6c" stroke-width="0.8"/>
<text x="660.3499999999999" y="161.65" font-family="Liberation Sans, sans-serif" font-size="5.7" fill="#222" text-anchor="middle">61.8%(163.67)</text>
<line x1="548.1" y1="179.7" x2="640.6" y2="179.7" stroke="#cc5050" stroke-width="0.7" stroke-dasharray="2.6 1.7"/>
<rect x="640.6" y="175.79999999999998" width="38.89999999999998" height="7.6" rx="2" ry="2" fill="#fff" stroke="#dc6c6c" stroke-width="0.8"/>
<text x="660.3499999999999" y="181.75" font-family="Liberation Sans, sans-serif" font-size="5.7" fill="#222" text-anchor="middle">78.6%(158.24)</text>
<line x1="548.1" y1="205.3" x2="637.5" y2="205.3" stroke="#cc5050" stroke-width="0.7" stroke-dasharray="2.6 1.7"/>
<rect x="637.5" y="201.4" width="42.0" height="7.6" rx="2" ry="2" fill="#fff" stroke="#dc6c6c" stroke-width="0.8"/>
<text x="658.8" y="207.35000000000002" font-family="Liberation Sans, sans-serif" font-size="5.7" fill="#222" text-anchor="middle">100.0%(151.33)</text>
<circle cx="1.3" cy="185.2" r="5" fill="#fff" stroke="#222" stroke-width="0.7"/>
<text x="1.3" y="187.6" font-family="Liberation Serif, serif" font-weight="bold" font-size="9" fill="#111" text-anchor="middle" stroke="#111" stroke-width="0.15">a</text>
<circle cx="42.4" cy="210.5" r="5" fill="#fff" stroke="#222" stroke-width="0.7"/>
<text x="42.4" y="212.9" font-family="Liberation Serif, serif" font-weight="bold" font-size="9" fill="#111" text-anchor="middle" stroke="#111" stroke-width="0.15">c</text>
<circle cx="12.3" cy="292" r="5" fill="#fff" stroke="#222" stroke-width="0.7"/>
<text x="12.3" y="294.4" font-family="Liberation Serif, serif" font-weight="bold" font-size="9" fill="#111" text-anchor="middle" stroke="#111" stroke-width="0.15">b</text>
<circle cx="192" cy="308" r="5" fill="#fff" stroke="#222" stroke-width="0.7"/>
<text x="192" y="310.4" font-family="Liberation Serif, serif" font-weight="bold" font-size="9" fill="#111" text-anchor="middle" stroke="#111" stroke-width="0.15">ii</text>
<circle cx="177" cy="348" r="5" fill="#fff" stroke="#222" stroke-width="0.7"/>
<text x="177" y="350.4" font-family="Liberation Serif, serif" font-weight="bold" font-size="9" fill="#111" text-anchor="middle" stroke="#111" stroke-width="0.15">i</text>
<circle cx="218.4" cy="346.25" r="5" fill="#fff" stroke="#222" stroke-width="0.7"/>
<text x="218.4" y="348.65" font-family="Liberation Serif, serif" font-weight="bold" font-size="9" fill="#111" text-anchor="middle" stroke="#111" stroke-width="0.15">iv</text>
<circle cx="237" cy="334.5" r="5" fill="#fff" stroke="#222" stroke-width="0.7"/>
<text x="237" y="336.9" font-family="Liberation Serif, serif" font-weight="bold" font-size="9" fill="#111" text-anchor="middle" stroke="#111" stroke-width="0.15">i</text>
<circle cx="210.6" cy="388" r="5" fill="#fff" stroke="#222" stroke-width="0.7"/>
<text x="210.6" y="390.4" font-family="Liberation Serif, serif" font-weight="bold" font-size="9" fill="#111" text-anchor="middle" stroke="#111" stroke-width="0.15">iii</text>
<circle cx="263" cy="420.6" r="5" fill="#fff" stroke="#222" stroke-width="0.7"/>
<text x="263" y="423.0" font-family="Liberation Serif, serif" font-weight="bold" font-size="9" fill="#111" text-anchor="middle" stroke="#111" stroke-width="0.15">ii</text>
<circle cx="229.4" cy="451.25" r="5" fill="#fff" stroke="#222" stroke-width="0.7"/>
<text x="229.4" y="453.65" font-family="Liberation Serif, serif" font-weight="bold" font-size="9" fill="#111" text-anchor="middle" stroke="#111" stroke-width="0.15">v</text>
<circle cx="495.4" cy="163" r="5" fill="#fff" stroke="#222" stroke-width="0.7"/>
<text x="495.4" y="165.4" font-family="Liberation Serif, serif" font-weight="bold" font-size="9" fill="#111" text-anchor="middle" stroke="#111" stroke-width="0.15">iv</text>
<circle cx="488.1" cy="91.9" r="5" fill="#fff" stroke="#222" stroke-width="0.7"/>
<text x="488.1" y="94.30000000000001" font-family="Liberation Serif, serif" font-weight="bold" font-size="9" fill="#111" text-anchor="middle" stroke="#111" stroke-width="0.15">iii</text>
<text x="1.6" y="200.3" font-family="Liberation Serif, serif" font-weight="bold" font-size="8.6" fill="#111" text-anchor="middle" stroke="#111" stroke-width="0.15">(v)</text>
<text x="278" y="349.5" font-family="Liberation Serif, serif" font-weight="bold" font-size="8.6" fill="#111" text-anchor="middle" stroke="#111" stroke-width="0.15">(i)</text>
<text x="289.5" y="389.5" font-family="Liberation Serif, serif" font-weight="bold" font-size="8.6" fill="#111" text-anchor="middle" stroke="#111" stroke-width="0.15">(ii)</text>
<text x="341.9" y="243.5" font-family="Liberation Serif, serif" font-weight="bold" font-size="8.6" fill="#111" text-anchor="middle" stroke="#111" stroke-width="0.15">(iii)</text>
<text x="349.6" y="296.9" font-family="Liberation Serif, serif" font-weight="bold" font-size="8.6" fill="#111" text-anchor="middle" stroke="#111" stroke-width="0.15">(iv)</text>
<text x="488.1" y="106.9" font-family="Liberation Serif, serif" font-weight="bold" font-size="8.6" fill="#111" text-anchor="middle" stroke="#111" stroke-width="0.15">(v)</text>
<text x="555.6" y="82.5" font-family="Liberation Serif, serif" font-weight="bold" font-size="8.6" fill="#111" text-anchor="middle" stroke="#111" stroke-width="0.15">(i)</text>
<text x="573.75" y="150.5" font-family="Liberation Serif, serif" font-weight="bold" font-size="8.6" fill="#111" text-anchor="middle" stroke="#111" stroke-width="0.15">(ii)</text>
<text x="585.25" y="22.5" font-family="Liberation Serif, serif" font-weight="bold" font-size="8.6" fill="#111" text-anchor="middle" stroke="#111" stroke-width="0.15">(iii)</text>
<text x="308" y="323.6" font-family="Liberation Serif, serif" font-weight="bold" font-size="8" fill="#111" text-anchor="middle" stroke="#111" stroke-width="0.15">i</text>
<text x="312" y="348.6" font-family="Liberation Serif, serif" font-weight="bold" font-size="8" fill="#111" text-anchor="middle" stroke="#111" stroke-width="0.15">ii</text>
<text x="330.7" y="258.6" font-family="Liberation Serif, serif" font-weight="bold" font-size="8" fill="#111" text-anchor="middle" stroke="#111" stroke-width="0.15">iii</text>
<text x="334.5" y="284.3" font-family="Liberation Serif, serif" font-weight="bold" font-size="8" fill="#111" text-anchor="middle" stroke="#111" stroke-width="0.15">iv</text>
<text x="342.3" y="255.1" font-family="Liberation Serif, serif" font-weight="bold" font-size="8" fill="#111" text-anchor="middle" stroke="#111" stroke-width="0.15">v</text>
<text x="360.6" y="233.1" font-family="Liberation Serif, serif" font-weight="bold" font-size="8" fill="#111" text-anchor="middle" stroke="#111" stroke-width="0.15">i</text>
<text x="364.4" y="284.1" font-family="Liberation Serif, serif" font-weight="bold" font-size="8" fill="#111" text-anchor="middle" stroke="#111" stroke-width="0.15">ii</text>
<text x="435.6" y="175.29999999999998" font-family="Liberation Serif, serif" font-weight="bold" font-size="8" fill="#111" text-anchor="middle" stroke="#111" stroke-width="0.15">iii</text>
<text x="443" y="214.6" font-family="Liberation Serif, serif" font-weight="bold" font-size="8" fill="#111" text-anchor="middle" stroke="#111" stroke-width="0.15">iv</text>
<text x="488.5" y="118.19999999999999" font-family="Liberation Serif, serif" font-weight="normal" font-size="8" fill="#111" text-anchor="middle" stroke="#111" stroke-width="0.15">v</text>
<text x="42.4" y="201.79999999999998" font-family="Liberation Sans, sans-serif" font-size="10.5" fill="#000" stroke="#000" stroke-width="0.3" text-anchor="middle">2</text>
<text x="173" y="309.1" font-family="Liberation Sans, sans-serif" font-size="10.5" fill="#000" stroke="#000" stroke-width="0.3" text-anchor="middle">4</text>
<text x="158.6" y="387.6" font-family="Liberation Sans, sans-serif" font-size="10.5" fill="#000" stroke="#000" stroke-width="0.3" text-anchor="middle">3</text>
<line x1="364.4" y1="200.6" x2="675" y2="-0.5" stroke="#0a0af5" stroke-width="1.75" stroke-linecap="butt"/>
<line x1="364.4" y1="274" x2="789" y2="-0.5" stroke="#0a0af5" stroke-width="1.75"/>
<path d="M228.4,461.8 L228.9,460.2 L231.4,460.2" fill="none" stroke="#111" stroke-width="1.3"/>
</g>
<text x="3.5" y="9" font-family="Liberation Sans, sans-serif" font-weight="bold" font-size="7" fill="#111">NVDA - 1 day</text>
<text x="36.7" y="18.2" font-family="Liberation Sans, sans-serif" font-size="5.75" fill="#ff2020">BB(20,20,2.0,2.0)</text>
<rect x="927" y="0" width="64.3" height="64.4" fill="#f2262b"/>
<text x="959.7" y="34.4" font-family="Liberation Serif, serif" font-size="18.3" fill="#fff" text-anchor="middle" stroke="#fff" stroke-width="0.45" transform="translate(959.7 34.4) scale(1 0.875) translate(-959.7 -34.4)">FxPro</text>
<text x="959.6" y="42.4" font-family="Liberation Sans, sans-serif" font-size="6.1" fill="#fff" text-anchor="middle">Trade Like a Pro</text>
<rect x="757.5" y="343" width="126.5" height="45" fill="#22b04b"/>
<path d="M774.8,355 L784.3,365.3 L778.8,365.3 L778.8,376.6 L770.8,376.6 L770.8,365.3 L765.3,365.3 Z" fill="#fff"/>
<text x="796.1" y="373.4" font-family="Liberation Sans, sans-serif" font-weight="bold" font-size="21.6" fill="#fff" stroke="#fff" stroke-width="0.5" textLength="64.9" lengthAdjust="spacingAndGlyphs">LONG</text>
<rect x="0" y="462" width="998" height="1" fill="#d4d4c8"/>
<rect x="996.4" y="0" width="1.4" height="463" fill="#dadad0"/>
<rect x="0" y="464.8" width="1001" height="1" fill="#505050"/>
<rect x="1000" y="0" width="1" height="465.8" fill="#404040"/>
<line x1="998" y1="2.77" x2="1000.5" y2="2.77" stroke="#555" stroke-width="0.8"/>
<line x1="998" y1="6.48" x2="1000.5" y2="6.48" stroke="#555" stroke-width="0.8"/>
<line x1="998" y1="10.18" x2="1000.5" y2="10.18" stroke="#555" stroke-width="0.8"/>
<line x1="998" y1="13.88" x2="1000.5" y2="13.88" stroke="#555" stroke-width="0.8"/>
<line x1="998" y1="17.59" x2="1000.5" y2="17.59" stroke="#555" stroke-width="0.8"/>
<line x1="998" y1="21.30" x2="1000.5" y2="21.30" stroke="#555" stroke-width="0.8"/>
<line x1="997" y1="25.00" x2="1000.5" y2="25.00" stroke="#333" stroke-width="0.9"/>
<text x="1001.7" y="28.00" font-family="Liberation Sans, sans-serif" font-size="6.5" fill="#333">200.00</text>
<line x1="998" y1="28.70" x2="1000.5" y2="28.70" stroke="#555" stroke-width="0.8"/>
<line x1="998" y1="32.41" x2="1000.5" y2="32.41" stroke="#555" stroke-width="0.8"/>
<line x1="998" y1="36.12" x2="1000.5" y2="36.12" stroke="#555" stroke-width="0.8"/>
<line x1="998" y1="39.82" x2="1000.5" y2="39.82" stroke="#555" stroke-width="0.8"/>
<line x1="998" y1="43.52" x2="1000.5" y2="43.52" stroke="#555" stroke-width="0.8"/>
<line x1="998" y1="47.23" x2="1000.5" y2="47.23" stroke="#555" stroke-width="0.8"/>
<line x1="998" y1="50.94" x2="1000.5" y2="50.94" stroke="#555" stroke-width="0.8"/>
<line x1="998" y1="54.64" x2="1000.5" y2="54.64" stroke="#555" stroke-width="0.8"/>
<line x1="998" y1="58.34" x2="1000.5" y2="58.34" stroke="#555" stroke-width="0.8"/>
<line x1="997" y1="62.05" x2="1000.5" y2="62.05" stroke="#333" stroke-width="0.9"/>
<text x="1001.7" y="65.05" font-family="Liberation Sans, sans-serif" font-size="6.5" fill="#333">190.00</text>
<line x1="998" y1="65.75" x2="1000.5" y2="65.75" stroke="#555" stroke-width="0.8"/>
<line x1="998" y1="69.46" x2="1000.5" y2="69.46" stroke="#555" stroke-width="0.8"/>
<line x1="998" y1="73.16" x2="1000.5" y2="73.16" stroke="#555" stroke-width="0.8"/>
<line x1="998" y1="76.87" x2="1000.5" y2="76.87" stroke="#555" stroke-width="0.8"/>
<line x1="998" y1="80.58" x2="1000.5" y2="80.58" stroke="#555" stroke-width="0.8"/>
<line x1="998" y1="84.28" x2="1000.5" y2="84.28" stroke="#555" stroke-width="0.8"/>
<line x1="998" y1="87.98" x2="1000.5" y2="87.98" stroke="#555" stroke-width="0.8"/>
<line x1="998" y1="91.69" x2="1000.5" y2="91.69" stroke="#555" stroke-width="0.8"/>
<line x1="998" y1="95.39" x2="1000.5" y2="95.39" stroke="#555" stroke-width="0.8"/>
<line x1="997" y1="99.10" x2="1000.5" y2="99.10" stroke="#333" stroke-width="0.9"/>
<text x="1001.7" y="102.10" font-family="Liberation Sans, sans-serif" font-size="6.5" fill="#333">180.00</text>
<line x1="998" y1="102.81" x2="1000.5" y2="102.81" stroke="#555" stroke-width="0.8"/>
<line x1="998" y1="106.51" x2="1000.5" y2="106.51" stroke="#555" stroke-width="0.8"/>
<line x1="998" y1="110.22" x2="1000.5" y2="110.22" stroke="#555" stroke-width="0.8"/>
<line x1="998" y1="113.92" x2="1000.5" y2="113.92" stroke="#555" stroke-width="0.8"/>
<line x1="998" y1="117.62" x2="1000.5" y2="117.62" stroke="#555" stroke-width="0.8"/>
<line x1="998" y1="121.33" x2="1000.5" y2="121.33" stroke="#555" stroke-width="0.8"/>
<line x1="998" y1="125.03" x2="1000.5" y2="125.03" stroke="#555" stroke-width="0.8"/>
<line x1="998" y1="128.74" x2="1000.5" y2="128.74" stroke="#555" stroke-width="0.8"/>
<line x1="998" y1="132.44" x2="1000.5" y2="132.44" stroke="#555" stroke-width="0.8"/>
<line x1="997" y1="136.15" x2="1000.5" y2="136.15" stroke="#333" stroke-width="0.9"/>
<text x="1001.7" y="139.15" font-family="Liberation Sans, sans-serif" font-size="6.5" fill="#333">170.00</text>
<line x1="998" y1="139.86" x2="1000.5" y2="139.86" stroke="#555" stroke-width="0.8"/>
<line x1="998" y1="143.56" x2="1000.5" y2="143.56" stroke="#555" stroke-width="0.8"/>
<line x1="998" y1="147.26" x2="1000.5" y2="147.26" stroke="#555" stroke-width="0.8"/>
<line x1="998" y1="150.97" x2="1000.5" y2="150.97" stroke="#555" stroke-width="0.8"/>
<line x1="998" y1="154.68" x2="1000.5" y2="154.68" stroke="#555" stroke-width="0.8"/>
<line x1="998" y1="158.38" x2="1000.5" y2="158.38" stroke="#555" stroke-width="0.8"/>
<line x1="998" y1="162.09" x2="1000.5" y2="162.09" stroke="#555" stroke-width="0.8"/>
<line x1="998" y1="165.79" x2="1000.5" y2="165.79" stroke="#555" stroke-width="0.8"/>
<line x1="998" y1="169.50" x2="1000.5" y2="169.50" stroke="#555" stroke-width="0.8"/>
<line x1="997" y1="173.20" x2="1000.5" y2="173.20" stroke="#333" stroke-width="0.9"/>
<text x="1001.7" y="176.20" font-family="Liberation Sans, sans-serif" font-size="6.5" fill="#333">160.00</text>
<line x1="998" y1="176.91" x2="1000.5" y2="176.91" stroke="#555" stroke-width="0.8"/>
<line x1="998" y1="180.61" x2="1000.5" y2="180.61" stroke="#555" stroke-width="0.8"/>
<line x1="998" y1="184.31" x2="1000.5" y2="184.31" stroke="#555" stroke-width="0.8"/>
<line x1="998" y1="188.02" x2="1000.5" y2="188.02" stroke="#555" stroke-width="0.8"/>
<line x1="998" y1="191.72" x2="1000.5" y2="191.72" stroke="#555" stroke-width="0.8"/>
<line x1="998" y1="195.43" x2="1000.5" y2="195.43" stroke="#555" stroke-width="0.8"/>
<line x1="998" y1="199.13" x2="1000.5" y2="199.13" stroke="#555" stroke-width="0.8"/>
<line x1="998" y1="202.84" x2="1000.5" y2="202.84" stroke="#555" stroke-width="0.8"/>
<line x1="998" y1="206.55" x2="1000.5" y2="206.55" stroke="#555" stroke-width="0.8"/>
<line x1="997" y1="210.25" x2="1000.5" y2="210.25" stroke="#333" stroke-width="0.9"/>
<text x="1001.7" y="213.25" font-family="Liberation Sans, sans-serif" font-size="6.5" fill="#333">150.00</text>
<line x1="998" y1="213.96" x2="1000.5" y2="213.96" stroke="#555" stroke-width="0.8"/>
<line x1="998" y1="217.66" x2="1000.5" y2="217.66" stroke="#555" stroke-width="0.8"/>
<line x1="998" y1="221.37" x2="1000.5" y2="221.37" stroke="#555" stroke-width="0.8"/>
<line x1="998" y1="225.07" x2="1000.5" y2="225.07" stroke="#555" stroke-width="0.8"/>
<line x1="998" y1="228.78" x2="1000.5" y2="228.78" stroke="#555" stroke-width="0.8"/>
<line x1="998" y1="232.48" x2="1000.5" y2="232.48" stroke="#555" stroke-width="0.8"/>
<line x1="998" y1="236.19" x2="1000.5" y2="236.19" stroke="#555" stroke-width="0.8"/>
<line x1="998" y1="239.89" x2="1000.5" y2="239.89" stroke="#555" stroke-width="0.8"/>
<line x1="998" y1="243.59" x2="1000.5" y2="243.59" stroke="#555" stroke-width="0.8"/>
<line x1="997" y1="247.30" x2="1000.5" y2="247.30" stroke="#333" stroke-width="0.9"/>
<text x="1001.7" y="250.30" font-family="Liberation Sans, sans-serif" font-size="6.5" fill="#333">140.00</text>
<line x1="998" y1="251.00" x2="1000.5" y2="251.00" stroke="#555" stroke-width="0.8"/>
<line x1="998" y1="254.71" x2="1000.5" y2="254.71" stroke="#555" stroke-width="0.8"/>
<line x1="998" y1="258.41" x2="1000.5" y2="258.41" stroke="#555" stroke-width="0.8"/>
<line x1="998" y1="262.12" x2="1000.5" y2="262.12" stroke="#555" stroke-width="0.8"/>
<line x1="998" y1="265.83" x2="1000.5" y2="265.83" stroke="#555" stroke-width="0.8"/>
<line x1="998" y1="269.53" x2="1000.5" y2="269.53" stroke="#555" stroke-width="0.8"/>
<line x1="998" y1="273.24" x2="1000.5" y2="273.24" stroke="#555" stroke-width="0.8"/>
<line x1="998" y1="276.94" x2="1000.5" y2="276.94" stroke="#555" stroke-width="0.8"/>
<line x1="998" y1="280.64" x2="1000.5" y2="280.64" stroke="#555" stroke-width="0.8"/>
<line x1="997" y1="284.35" x2="1000.5" y2="284.35" stroke="#333" stroke-width="0.9"/>
<text x="1001.7" y="287.35" font-family="Liberation Sans, sans-serif" font-size="6.5" fill="#333">130.00</text>
<line x1="998" y1="288.06" x2="1000.5" y2="288.06" stroke="#555" stroke-width="0.8"/>
<line x1="998" y1="291.76" x2="1000.5" y2="291.76" stroke="#555" stroke-width="0.8"/>
<line x1="998" y1="295.47" x2="1000.5" y2="295.47" stroke="#555" stroke-width="0.8"/>
<line x1="998" y1="299.17" x2="1000.5" y2="299.17" stroke="#555" stroke-width="0.8"/>
<line x1="998" y1="302.88" x2="1000.5" y2="302.88" stroke="#555" stroke-width="0.8"/>
<line x1="998" y1="306.58" x2="1000.5" y2="306.58" stroke="#555" stroke-width="0.8"/>
<line x1="998" y1="310.29" x2="1000.5" y2="310.29" stroke="#555" stroke-width="0.8"/>
<line x1="998" y1="313.99" x2="1000.5" y2="313.99" stroke="#555" stroke-width="0.8"/>
<line x1="998" y1="317.69" x2="1000.5" y2="317.69" stroke="#555" stroke-width="0.8"/>
<line x1="997" y1="321.40" x2="1000.5" y2="321.40" stroke="#333" stroke-width="0.9"/>
<text x="1001.7" y="324.40" font-family="Liberation Sans, sans-serif" font-size="6.5" fill="#333">120.00</text>
<line x1="998" y1="325.11" x2="1000.5" y2="325.11" stroke="#555" stroke-width="0.8"/>
<line x1="998" y1="328.81" x2="1000.5" y2="328.81" stroke="#555" stroke-width="0.8"/>
<line x1="998" y1="332.51" x2="1000.5" y2="332.51" stroke="#555" stroke-width="0.8"/>
<line x1="998" y1="336.22" x2="1000.5" y2="336.22" stroke="#555" stroke-width="0.8"/>
<line x1="998" y1="339.93" x2="1000.5" y2="339.93" stroke="#555" stroke-width="0.8"/>
<line x1="998" y1="343.63" x2="1000.5" y2="343.63" stroke="#555" stroke-width="0.8"/>
<line x1="998" y1="347.33" x2="1000.5" y2="347.33" stroke="#555" stroke-width="0.8"/>
<line x1="998" y1="351.04" x2="1000.5" y2="351.04" stroke="#555" stroke-width="0.8"/>
<line x1="998" y1="354.75" x2="1000.5" y2="354.75" stroke="#555" stroke-width="0.8"/>
<line x1="997" y1="358.45" x2="1000.5" y2="358.45" stroke="#333" stroke-width="0.9"/>
<text x="1001.7" y="361.45" font-family="Liberation Sans, sans-serif" font-size="6.5" fill="#333">110.00</text>
<line x1="998" y1="362.16" x2="1000.5" y2="362.16" stroke="#555" stroke-width="0.8"/>
<line x1="998" y1="365.86" x2="1000.5" y2="365.86" stroke="#555" stroke-width="0.8"/>
<line x1="998" y1="369.56" x2="1000.5" y2="369.56" stroke="#555" stroke-width="0.8"/>
<line x1="998" y1="373.27" x2="1000.5" y2="373.27" stroke="#555" stroke-width="0.8"/>
<line x1="998" y1="376.98" x2="1000.5" y2="376.98" stroke="#555" stroke-width="0.8"/>
<line x1="998" y1="380.68" x2="1000.5" y2="380.68" stroke="#555" stroke-width="0.8"/>
<line x1="998" y1="384.38" x2="1000.5" y2="384.38" stroke="#555" stroke-width="0.8"/>
<line x1="998" y1="388.09" x2="1000.5" y2="388.09" stroke="#555" stroke-width="0.8"/>
<line x1="998" y1="391.80" x2="1000.5" y2="391.80" stroke="#555" stroke-width="0.8"/>
<line x1="997" y1="395.50" x2="1000.5" y2="395.50" stroke="#333" stroke-width="0.9"/>
<text x="1001.7" y="398.50" font-family="Liberation Sans, sans-serif" font-size="6.5" fill="#333">100.00</text>
<line x1="998" y1="399.20" x2="1000.5" y2="399.20" stroke="#555" stroke-width="0.8"/>
<line x1="998" y1="402.91" x2="1000.5" y2="402.91" stroke="#555" stroke-width="0.8"/>
<line x1="998" y1="406.62" x2="1000.5" y2="406.62" stroke="#555" stroke-width="0.8"/>
<line x1="998" y1="410.32" x2="1000.5" y2="410.32" stroke="#555" stroke-width="0.8"/>
<line x1="998" y1="414.03" x2="1000.5" y2="414.03" stroke="#555" stroke-width="0.8"/>
<line x1="998" y1="417.73" x2="1000.5" y2="417.73" stroke="#555" stroke-width="0.8"/>
<line x1="998" y1="421.44" x2="1000.5" y2="421.44" stroke="#555" stroke-width="0.8"/>
<line x1="998" y1="425.14" x2="1000.5" y2="425.14" stroke="#555" stroke-width="0.8"/>
<line x1="998" y1="428.85" x2="1000.5" y2="428.85" stroke="#555" stroke-width="0.8"/>
<line x1="997" y1="432.55" x2="1000.5" y2="432.55" stroke="#333" stroke-width="0.9"/>
<text x="1001.7" y="435.55" font-family="Liberation Sans, sans-serif" font-size="6.5" fill="#333">90.00</text>
<line x1="998" y1="436.25" x2="1000.5" y2="436.25" stroke="#555" stroke-width="0.8"/>
<line x1="998" y1="439.96" x2="1000.5" y2="439.96" stroke="#555" stroke-width="0.8"/>
<line x1="998" y1="443.67" x2="1000.5" y2="443.67" stroke="#555" stroke-width="0.8"/>
<line x1="998" y1="447.37" x2="1000.5" y2="447.37" stroke="#555" stroke-width="0.8"/>
<line x1="998" y1="451.07" x2="1000.5" y2="451.07" stroke="#555" stroke-width="0.8"/>
<line x1="998" y1="454.78" x2="1000.5" y2="454.78" stroke="#555" stroke-width="0.8"/>
<line x1="998" y1="458.49" x2="1000.5" y2="458.49" stroke="#555" stroke-width="0.8"/>
<line x1="65" y1="462" x2="65" y2="465" stroke="#444" stroke-width="0.9"/>
<text x="65" y="472" font-family="Liberation Sans, sans-serif" font-size="6.5" fill="#333" text-anchor="middle">Feb-2025</text>
<line x1="136.25" y1="462" x2="136.25" y2="465" stroke="#444" stroke-width="0.9"/>
<text x="136.25" y="472" font-family="Liberation Sans, sans-serif" font-size="6.5" fill="#333" text-anchor="middle">Mar-2025</text>
<line x1="214.25" y1="462" x2="214.25" y2="465" stroke="#444" stroke-width="0.9"/>
<text x="214.25" y="472" font-family="Liberation Sans, sans-serif" font-size="6.5" fill="#333" text-anchor="middle">Apr-2025</text>
<line x1="293.5" y1="462" x2="293.5" y2="465" stroke="#444" stroke-width="0.9"/>
<text x="293.5" y="472" font-family="Liberation Sans, sans-serif" font-size="6.5" fill="#333" text-anchor="middle">May-2025</text>
<line x1="368.5" y1="462" x2="368.5" y2="465" stroke="#444" stroke-width="0.9"/>
<text x="368.5" y="472" font-family="Liberation Sans, sans-serif" font-size="6.5" fill="#333" text-anchor="middle">Jun-2025</text>
<line x1="443.5" y1="462" x2="443.5" y2="465" stroke="#444" stroke-width="0.9"/>
<text x="443.5" y="472" font-family="Liberation Sans, sans-serif" font-size="6.5" fill="#333" text-anchor="middle">Jul-2025</text>
<line x1="525.75" y1="462" x2="525.75" y2="465" stroke="#444" stroke-width="0.9"/>
<text x="525.75" y="472" font-family="Liberation Sans, sans-serif" font-size="6.5" fill="#333" text-anchor="middle">Aug-2025</text>
<line x1="607.9" y1="462" x2="607.9" y2="465" stroke="#444" stroke-width="0.9"/>
<text x="607.9" y="472" font-family="Liberation Sans, sans-serif" font-size="6.5" fill="#333" text-anchor="middle">Sep-2025</text>
<line x1="684.5" y1="462" x2="684.5" y2="465" stroke="#444" stroke-width="0.9"/>
<text x="684.5" y="472" font-family="Liberation Sans, sans-serif" font-size="6.5" fill="#333" text-anchor="middle">Oct-2025</text>
<line x1="770.5" y1="462" x2="770.5" y2="465" stroke="#444" stroke-width="0.9"/>
<text x="770.5" y="472" font-family="Liberation Sans, sans-serif" font-size="6.5" fill="#333" text-anchor="middle">Nov-2025</text>
<line x1="843.75" y1="462" x2="843.75" y2="465" stroke="#444" stroke-width="0.9"/>
<text x="843.75" y="472" font-family="Liberation Sans, sans-serif" font-size="6.5" fill="#333" text-anchor="middle">Dec-2025</text>
<line x1="924.25" y1="462" x2="924.25" y2="465" stroke="#444" stroke-width="0.9"/>
<text x="924.25" y="472" font-family="Liberation Sans, sans-serif" font-size="6.5" fill="#333" text-anchor="middle">Jan-2026</text>
<line x1="169.5" y1="462" x2="169.5" y2="465" stroke="#444" stroke-width="0.9"/>
<text x="169.5" y="472" font-family="Liberation Sans, sans-serif" font-size="6.5" fill="#333" text-anchor="middle">Mar-14</text>
<line x1="248.25" y1="462" x2="248.25" y2="465" stroke="#444" stroke-width="0.9"/>
<text x="248.25" y="472" font-family="Liberation Sans, sans-serif" font-size="6.5" fill="#333" text-anchor="middle">Apr-14</text>
<line x1="476.75" y1="462" x2="476.75" y2="465" stroke="#444" stroke-width="0.9"/>
<text x="476.75" y="472" font-family="Liberation Sans, sans-serif" font-size="6.5" fill="#333" text-anchor="middle">Jul-15</text>
<line x1="559.5" y1="462" x2="559.5" y2="465" stroke="#444" stroke-width="0.9"/>
<text x="559.5" y="472" font-family="Liberation Sans, sans-serif" font-size="6.5" fill="#333" text-anchor="middle">Aug-14</text>
<line x1="641.25" y1="462" x2="641.25" y2="465" stroke="#444" stroke-width="0.9"/>
<text x="641.25" y="472" font-family="Liberation Sans, sans-serif" font-size="6.5" fill="#333" text-anchor="middle">Sep-15</text>
<line x1="716.25" y1="462" x2="716.25" y2="465" stroke="#444" stroke-width="0.9"/>
<text x="716.25" y="472" font-family="Liberation Sans, sans-serif" font-size="6.5" fill="#333" text-anchor="middle">Oct-13</text>
<line x1="875.5" y1="462" x2="875.5" y2="465" stroke="#444" stroke-width="0.9"/>
<text x="875.5" y="472" font-family="Liberation Sans, sans-serif" font-size="6.5" fill="#333" text-anchor="middle">Dec-12</text>
<line x1="957.25" y1="462" x2="957.25" y2="465" stroke="#444" stroke-width="0.9"/>
<text x="947.2" y="472" font-family="Liberation Sans, sans-serif" font-size="6.5" fill="#333">Ja</text>
<path d="M997,96.41369999999995 L1000.3,92.11369999999995 L1023,92.11369999999995 L1023,99.91369999999995 L1000.3,99.91369999999995 Z" fill="#fff"/>
<path d="M1000.3,99.91369999999995 L997,96.41369999999995 L1000.3,92.11369999999995" fill="none" stroke="#222" stroke-width="0.9"/>
<line x1="1000" y1="92.11369999999995" x2="1023" y2="92.11369999999995" stroke="#111" stroke-width="1.1"/>
<rect x="1022.2" y="91.71369999999995" width="1.8" height="8.4" fill="#111"/>
<line x1="1000.3" y1="99.91369999999995" x2="1022" y2="99.91369999999995" stroke="#bbb" stroke-width="0.7"/>
<text x="1001.5" y="98.81" font-family="Liberation Sans, sans-serif" font-size="6.5" fill="#333">180.86</text>
<rect x="0" y="0" width="1024" height="0.8" fill="#333" fill-opacity="0.85"/>
<rect x="0" y="0" width="1" height="474" fill="#555"/>
<rect x="1023" y="0" width="1" height="474" fill="#666"/>
<rect x="0" y="473" width="1024" height="1" fill="#555"/>
</svg>
</body></html>
